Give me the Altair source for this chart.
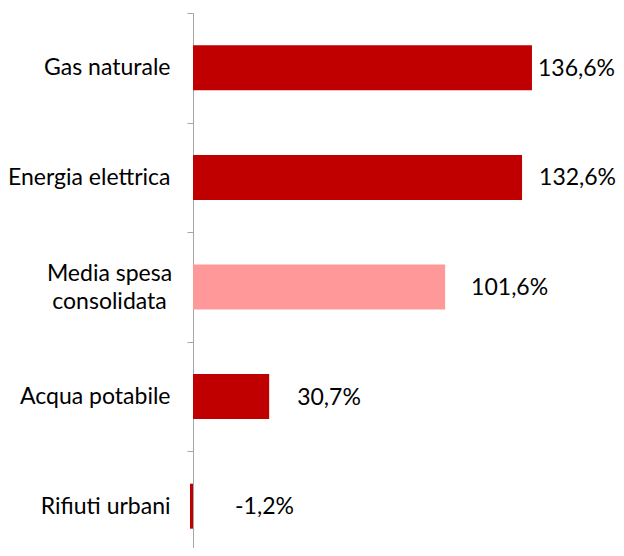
import altair as alt
import pandas as pd

categories = ["Gas naturale", "Energia elettrica", "Media spesa consolidata", "Acqua potabile", "Rifiuti urbani"]
values = [136.6, 132.6, 101.6, 30.7, -1.2]
kinds = ["voce", "voce", "media", "voce", "voce"]

df = pd.DataFrame({"categoria": categories, "valore": values, "tipo": kinds})
df["etichetta"] = [f"{v:.1f}".replace(".", ",") + "%" for v in values]

FONT = "Lato"
MEDIA = "Media spesa consolidata"

y_enc = alt.Y(
    "categoria:N",
    sort=categories,
    title=None,
    scale=alt.Scale(range=[0, 548], paddingInner=0, paddingOuter=0),
    axis=alt.Axis(
        domainColor="#A6A6A6",
        tickColor="#A6A6A6",
        tickSize=6,
        tickBand="extent",
        labelFont=FONT,
        labelFontSize=23,
        labelColor="#000000",
        labelLineHeight=28,
        labelExpr=f"datum.label == '{MEDIA}' ? ['Media spesa', 'consolidata'] : datum.label",
        labelAlign={"condition": {"test": f"datum.value == '{MEDIA}'", "value": "center"}, "value": "right"},
        labelPadding={"condition": {"test": f"datum.value == '{MEDIA}'", "value": 78}, "value": 17},
        labelOffset={"condition": {"test": f"datum.value == '{MEDIA}'", "value": -14}, "value": 0},
    ),
)

x_enc = alt.X("valore:Q", scale=alt.Scale(domain=[0, 162], nice=False), axis=None)

bars = alt.Chart(df).mark_bar(size=45).encode(
    x=x_enc,
    y=y_enc,
    color=alt.Color("tipo:N", scale=alt.Scale(domain=["voce", "media"], range=["#C00000", "#FF9999"]), legend=None),
)

label_dx = {"Gas naturale": 6, "Energia elettrica": 17, MEDIA: 26, "Acqua potabile": 28, "Rifiuti urbani": 45}
texts = []
for cat in categories:
    texts.append(
        alt.Chart(df)
        .transform_filter(alt.datum.categoria == cat)
        .mark_text(align="left", baseline="middle", font=FONT, fontSize=23, color="#000000", dx=label_dx[cat], dy=1)
        .encode(x=x_enc, y=y_enc, text="etichetta:N")
    )

chart = (
    alt.layer(bars, *texts)
    .properties(
        width=402,
        height=535,
        padding={"left": 185, "top": 5, "right": 21, "bottom": 0},
        autosize=alt.AutoSizeParams(type="none"),
    )
    .configure_view(stroke=None)
)

chart.save("out.html", embed_options={"renderer": "svg", "actions": False})
